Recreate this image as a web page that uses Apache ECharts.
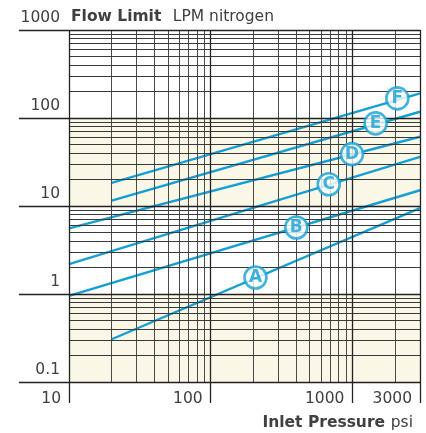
<!DOCTYPE html>
<html>
<head>
<meta charset="utf-8">
<script src="https://cdn.jsdelivr.net/npm/echarts@6/dist/echarts.min.js"></script>
<style>html,body{margin:0;padding:0;background:#fff}#c{width:426px;height:433px}</style>
</head>
<body>
<div id="c"></div>
<script>
// ---- data ----
var xTickLabels = [10, 100, 1000, 3000];
var yTickLabels = [0.1, 1, 10, 100, 1000];
var xMinorGrid = [20,30,40,50,60,70,80,90,200,300,400,500,600,700,800,900,2000];
var xMajorGrid = [10,100,1000,3000];
var yMinorGrid = [0.2,0.3,0.4,0.5,0.6,0.7,0.8,0.9,2,3,4,5,6,7,8,9,20,30,40,50,60,70,80,90,200,300,400,500,600,700,800,900];
var yMajorGrid = [0.1,1,10,100,1000];
var shadedBands = [[0.1, 1], [10, 100]];
var seriesNames = ['A','B','C','D','E','F'];
var lineA = [[20, 0.306], [3000, 9.46]];
var lineB = [[10, 0.95], [3000, 15.1]];
var lineC = [[10, 2.18], [3000, 36.2]];
var lineD = [[10, 5.56], [3000, 61.2]];
var lineE = [[20, 11.5], [3000, 117.7]];
var lineF = [[20, 18.3], [3000, 190.6]];
var labelPoints = [[207, 1.54], [402, 5.7], [681, 17.7], [993, 38.9], [1459, 86.9], [2075, 167]];

var BLUE = '#139fd8';
var FONT = 'DejaVu Sans';
var TXT = '#404040';

var lines = [lineA, lineB, lineC, lineD, lineE, lineF];

var mlData = [];
xMinorGrid.forEach(function (v) { mlData.push({ xAxis: v, lineStyle: { color: '#4a4a4a', width: 1, type: 'solid' } }); });
yMinorGrid.forEach(function (v) { mlData.push({ yAxis: v, lineStyle: { color: '#3a3a3a', width: 1, type: 'solid' } }); });
xMajorGrid.forEach(function (v) { mlData.push({ xAxis: v, lineStyle: { color: '#222', width: 1.3, type: 'solid' } }); });
yMajorGrid.forEach(function (v) { mlData.push({ yAxis: v, lineStyle: { color: '#222', width: 1.3, type: 'solid' } }); });

var series = [{
  type: 'line', data: [], symbol: 'none', z: 1, silent: true,
  markArea: {
    silent: true,
    itemStyle: { color: '#faf7e6' },
    data: shadedBands.map(function (b) { return [{ yAxis: b[0] }, { yAxis: b[1] }]; })
  },
  markLine: {
    silent: true, symbol: ['none', 'none'], label: { show: false },
    lineStyle: { type: 'solid' },
    animation: false,
    data: mlData
  }
}];
lines.forEach(function (d, i) {
  series.push({
    type: 'line', name: seriesNames[i], data: d, symbol: 'none', z: 3,
    lineStyle: { color: BLUE, width: 2.4 }
  });
});
series.push({
  type: 'scatter', z: 5, symbol: 'circle', symbolSize: 22,
  itemStyle: { color: '#fff', borderColor: BLUE, borderWidth: 2.6 },
  label: {
    show: true, position: 'inside', color: BLUE, fontFamily: FONT, fontWeight: 'bold', fontSize: 17,
    formatter: function (p) { return seriesNames[p.dataIndex]; }
  },
  data: labelPoints
});

var chart = echarts.init(document.getElementById('c'));
chart.setOption({
  animation: false,
  textStyle: { fontFamily: FONT },
  title: [{
    left: 66, top: 3,
    text: '{b|Flow Limit}  {r|LPM nitrogen}',
    textStyle: { fontWeight: 'normal', rich: {
      b: { fontFamily: FONT, fontWeight: 'bold', fontSize: 15.5, color: TXT },
      r: { fontFamily: FONT, fontWeight: 'normal', fontSize: 15.5, color: TXT }
    } }
  }, {
    right: 8, top: 409,
    text: '{b|Inlet Pressure} {r|psi}',
    textStyle: { fontWeight: 'normal', rich: {
      b: { fontFamily: FONT, fontWeight: 'bold', fontSize: 15.5, color: TXT },
      r: { fontFamily: FONT, fontWeight: 'normal', fontSize: 15.5, color: TXT }
    } }
  }],
  grid: { left: 69, right: 6, top: 30, bottom: 51, containLabel: false },
  xAxis: {
    type: 'log', logBase: 10, min: 10, max: 3000,
    axisLine: { show: false },
    splitLine: { show: false },
    axisTick: { show: true, length: 21, lineStyle: { color: '#222', width: 1.3 }, customValues: xTickLabels },
    axisLabel: {
      customValues: xTickLabels, showMinLabel: true, showMaxLabel: true,
      align: 'right', padding: [0, 8, 0, 0], margin: 9,
      fontFamily: FONT, fontSize: 15.5, color: TXT,
      formatter: function (v) { return String(v); }
    }
  },
  yAxis: {
    type: 'log', logBase: 10, min: 0.1, max: 1000,
    axisLine: { show: false },
    splitLine: { show: false },
    axisTick: { show: true, length: 50, lineStyle: { color: '#222', width: 1.3 }, customValues: yTickLabels },
    axisLabel: {
      customValues: yTickLabels, showMinLabel: true, showMaxLabel: true,
      verticalAlign: 'bottom', lineHeight: 24, margin: 9,
      fontFamily: FONT, fontSize: 15.5, color: TXT,
      formatter: function (v) { return String(v); }
    }
  },
  series: series
});
</script>
</body>
</html>
